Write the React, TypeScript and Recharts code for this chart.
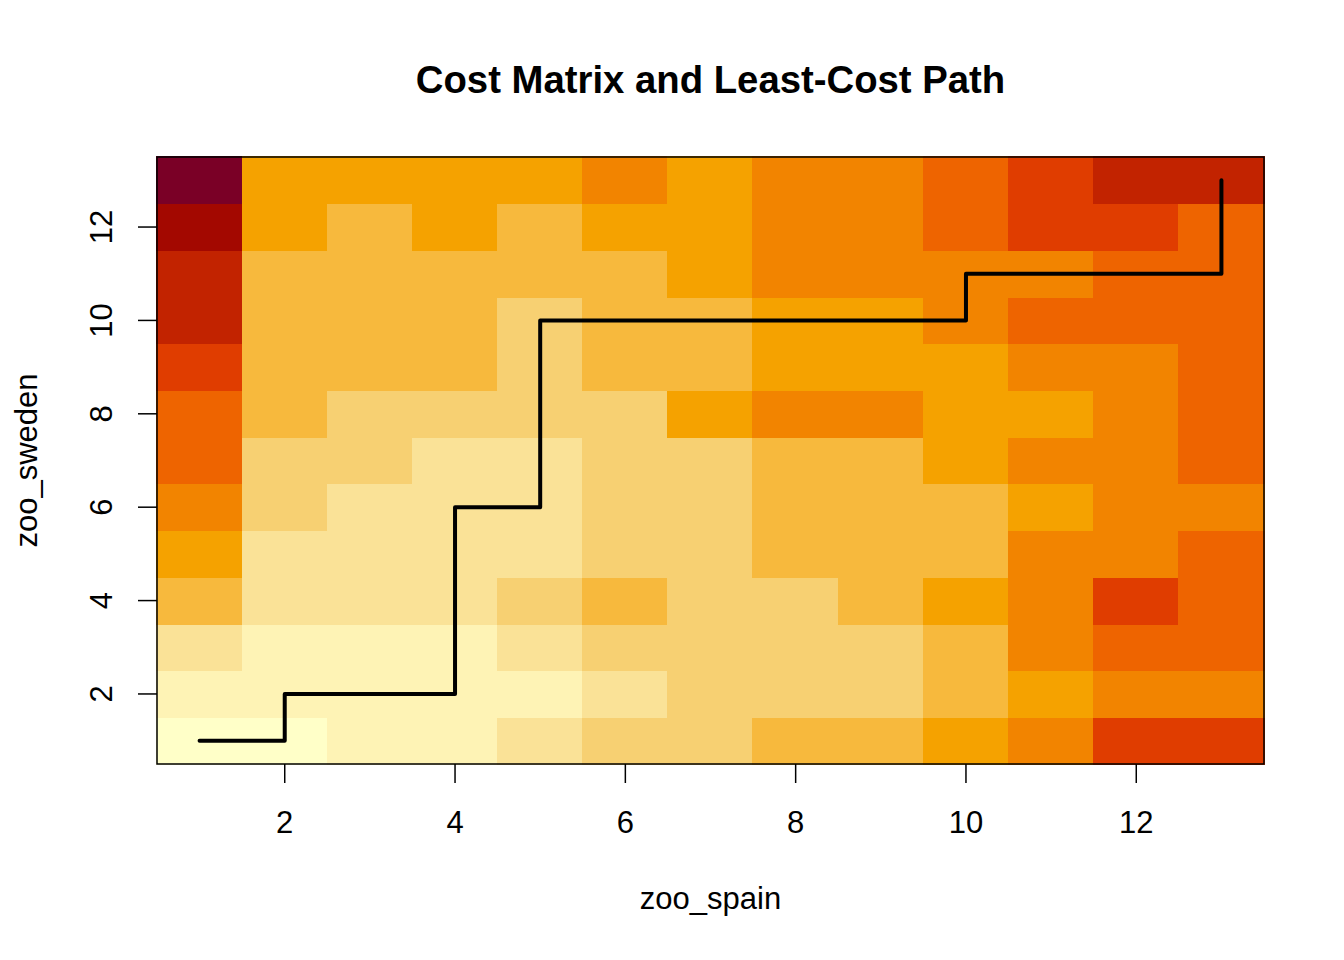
import { ComposedChart, XAxis, YAxis, Line, ReferenceArea } from 'recharts';

// colour ramp, light (low cost) -> dark (high cost)
const PALETTE = [
  '#FFFFC8', '#FEF3B5', '#FAE297', '#F7D072', '#F7B93D', '#F5A200',
  '#F28400', '#EE6400', '#E03D00', '#C22300', '#A30800', '#7A0026',
];

// cost level per cell, one array per zoo_sweden row (1..13), columns are zoo_spain 1..13
const row1 = [0, 0, 1, 1, 2, 3, 3, 4, 4, 5, 6, 8, 8];
const row2 = [1, 1, 1, 1, 1, 2, 3, 3, 3, 4, 5, 6, 6];
const row3 = [2, 1, 1, 1, 2, 3, 3, 3, 3, 4, 6, 7, 7];
const row4 = [4, 2, 2, 2, 3, 4, 3, 3, 4, 5, 6, 8, 7];
const row5 = [5, 2, 2, 2, 2, 3, 3, 4, 4, 4, 6, 6, 7];
const row6 = [6, 3, 2, 2, 2, 3, 3, 4, 4, 4, 5, 6, 6];
const row7 = [7, 3, 3, 2, 2, 3, 3, 4, 4, 5, 6, 6, 7];
const row8 = [7, 4, 3, 3, 3, 3, 5, 6, 6, 5, 5, 6, 7];
const row9 = [8, 4, 4, 4, 3, 4, 4, 5, 5, 5, 6, 6, 7];
const row10 = [9, 4, 4, 4, 3, 4, 4, 5, 5, 6, 7, 7, 7];
const row11 = [9, 4, 4, 4, 4, 4, 5, 6, 6, 6, 6, 7, 7];
const row12 = [10, 5, 4, 5, 4, 5, 5, 6, 6, 7, 8, 8, 7];
const row13 = [11, 5, 5, 5, 5, 6, 5, 6, 6, 7, 8, 9, 9];
const costRows = [row1, row2, row3, row4, row5, row6, row7, row8, row9, row10, row11, row12, row13];

// least-cost path
const pathSpain = [1, 2, 2, 4, 4, 5, 5, 10, 10, 13, 13];
const pathSweden = [1, 1, 2, 2, 6, 6, 10, 10, 11, 11, 13];

const xTicks = [2, 4, 6, 8, 10, 12];
const yTicks = [2, 4, 6, 8, 10, 12];

const FONT = '"Liberation Sans", Arial, Helvetica, sans-serif';

const pathData = pathSpain.map((x, i) => ({ x, y: pathSweden[i] }));

const XTick = (props: any) => {
  const { x, y, payload } = props;
  return (
    <text x={x} y={y + 50} textAnchor="middle" fontSize={31} fontFamily={FONT} fill="#000">
      {payload.value}
    </text>
  );
};

const YTick = (props: any) => {
  const { x, y, payload } = props;
  const bx = x - 26;
  return (
    <text
      x={bx}
      y={y}
      transform={`rotate(-90 ${bx} ${y})`}
      textAnchor="middle"
      fontSize={31}
      fontFamily={FONT}
      fill="#000"
    >
      {payload.value}
    </text>
  );
};

export default function App() {
  return (
    <div style={{ position: 'absolute', left: 0, top: 0, width: 1344, height: 960, background: '#fff' }}>
      <ComposedChart
        width={1344}
        height={960}
        data={pathData}
        margin={{ top: 157, right: 80, bottom: 96, left: 37 }}
      >
        <XAxis
          type="number"
          dataKey="x"
          domain={[0.5, 13.5]}
          allowDataOverflow
          ticks={xTicks}
          height={100}
          tickSize={19}
          tickMargin={0}
          axisLine={false}
          tickLine={{ stroke: '#000', strokeWidth: 1.5 }}
          tick={<XTick />}
        />
        <YAxis
          type="number"
          domain={[0.5, 13.5]}
          allowDataOverflow
          ticks={yTicks}
          width={120}
          tickSize={19}
          tickMargin={0}
          axisLine={false}
          tickLine={{ stroke: '#000', strokeWidth: 1.5 }}
          tick={<YTick />}
        />
        {costRows.map((row, ri) =>
          row.map((lvl, ci) => (
            <ReferenceArea
              key={`c-${ri}-${ci}`}
              x1={ci + 0.5}
              x2={ci + 1.5}
              y1={ri + 0.5}
              y2={ri + 1.5}
              fill={PALETTE[lvl]}
              fillOpacity={1}
              stroke={PALETTE[lvl]}
              strokeWidth={1.2}
              shapeRendering="crispEdges"
              isAnimationActive={false}
            />
          ))
        )}
        <ReferenceArea
          x1={0.5}
          x2={13.5}
          y1={0.5}
          y2={13.5}
          fill="none"
          fillOpacity={0}
          stroke="#000"
          strokeWidth={1.5}
        />
        <Line
          type="linear"
          dataKey="y"
          stroke="#000"
          strokeWidth={4}
          strokeLinecap="round"
          strokeLinejoin="round"
          dot={false}
          activeDot={false}
          isAnimationActive={false}
        />
      </ComposedChart>
      <svg
        width={1344}
        height={960}
        style={{ position: 'absolute', left: 0, top: 0, pointerEvents: 'none' }}
      >
        <text x={710.5} y={93} textAnchor="middle" fontSize={38.3} fontWeight="bold" fontFamily={FONT} fill="#000">
          Cost Matrix and Least-Cost Path
        </text>
        <text x={710.5} y={909} textAnchor="middle" fontSize={31} fontFamily={FONT} fill="#000">
          zoo_spain
        </text>
        <text
          x={37}
          y={460.5}
          transform="rotate(-90 37 460.5)"
          textAnchor="middle"
          fontSize={31}
          fontFamily={FONT}
          fill="#000"
        >
          zoo_sweden
        </text>
      </svg>
    </div>
  );
}
